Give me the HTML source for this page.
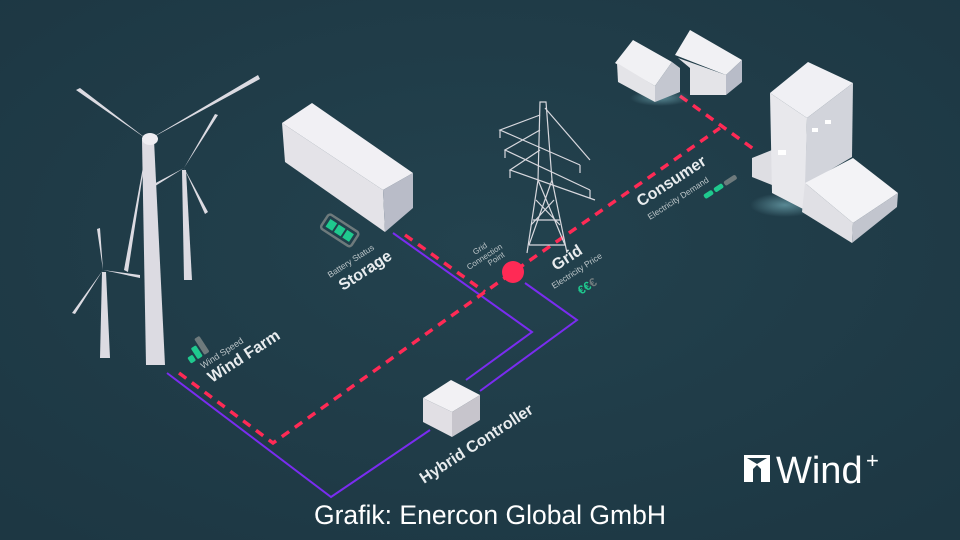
<!DOCTYPE html>
<html><head><meta charset="utf-8"><style>
html,body{margin:0;padding:0;background:#1f3b47;}
svg{display:block}
text{font-family:"Liberation Sans",sans-serif;}
</style></head><body>
<svg width="960" height="540" viewBox="0 0 960 540" xmlns="http://www.w3.org/2000/svg">
<defs>
<radialGradient id="bg" cx="50%" cy="45%" r="70%"><stop offset="0" stop-color="#23424e"/><stop offset="1" stop-color="#1d3743"/></radialGradient>
<radialGradient id="glow" cx="50%" cy="50%" r="50%"><stop offset="0" stop-color="#9fe6f0" stop-opacity=".45"/><stop offset="1" stop-color="#9fe6f0" stop-opacity="0"/></radialGradient>
</defs>
<rect width="960" height="540" fill="url(#bg)"/>

<g fill="none" stroke="#7a2cf0" stroke-width="2">
<polyline points="167,373 331,497 430,430"/>
<polyline points="393,233 532,332 466,380"/>
<polyline points="525,283 577,320 480,391"/>
</g>
<g fill="none" stroke="#ff2a55" stroke-width="3.5" stroke-dasharray="9,7">
<polyline points="179,373 273,443 513,272 720,128"/>
<polyline points="405,235 485,292"/>
<polyline points="680,96 755,150"/>
</g>
<circle cx="513" cy="272" r="11" fill="#ff2a55"/>

<polygon points="423,398 451,380 480,395 452,412" fill="#f2f1f4"/>
<polygon points="423,398 452,412 452,437 423,422" fill="#e1dfe4"/>
<polygon points="452,412 480,395 480,420 452,437" fill="#c7c5cc"/>

<g fill="#dcdbe2">
<polygon points="102,272 106,272 110,358 100,358"/>
<polygon points="103,270 72,313 75,314"/><polygon points="103,270 140,278 140,275"/><polygon points="103,270 100,228 97,229"/>
<polygon points="182,170 186,170 192,280 184,280"/>
<polygon points="184,168 150,186 152,188"/><polygon points="184,168 218,115 215,114"/><polygon points="184,168 205,214 208,212"/>
<polygon points="142,140 154,140 165,365 146,365"/>
<polygon points="148,140 76,90 80,88"/><polygon points="148,140 258,75 260,79"/><polygon points="148,140 128,272 124,270"/>
<ellipse cx="150" cy="139" rx="8" ry="6" fill="#eeedf2"/>
</g>

<polygon points="282,123 312,103 413,173 383,190" fill="#f1f0f4"/>
<polygon points="282,123 383,190 385,232 285,162" fill="#e4e3e8"/>
<polygon points="383,190 413,173 413,208 385,232" fill="#b9bcc8"/>
<g transform="translate(340,230) rotate(33)">
<rect x="-18" y="-8" width="36" height="17" rx="3" fill="none" stroke="#6e7a7c" stroke-width="2.5"/>
<rect x="-14" y="-4" width="8" height="9" fill="#1fc98e"/><rect x="-4" y="-4" width="8" height="9" fill="#1fc98e"/><rect x="6" y="-4" width="8" height="9" fill="#1fc98e"/>
</g>

<g stroke="#d8d8de" stroke-width="1.2" fill="none">
<polyline points="527,253 538,180 540,102 546,102 552,180 567,253"/>
<line x1="533" y1="220" x2="560" y2="220"/><line x1="529" y1="245" x2="565" y2="245"/>
<path d="M538,180 L565,245 M552,180 L529,245 M536,200 L560,225 M554,200 L531,225"/>
<path d="M540,115 L500,130 L580,165 M540,130 L505,150 L590,190 M540,150 L510,170 L595,200 M545,108 L590,160"/>
<path d="M500,130 v8 M505,150 v8 M510,170 v8 M580,165 v8 M590,190 v8"/>
</g>

<g>
<ellipse cx="660" cy="98" rx="30" ry="8" fill="url(#glow)"/>
<polygon points="615,63 633,40 672,62 655,86" fill="#f1f1f4"/>
<polygon points="617,63 655,86 655,102 618,82" fill="#e4e4e8"/>
<polygon points="655,86 672,62 680,68 680,92 655,102" fill="#c4c7d0"/>
<polygon points="675,55 690,30 742,60 726,75" fill="#f1f1f4"/>
<polygon points="678,58 726,75 726,95 690,95 690,68" fill="#e4e4e8"/>
<polygon points="726,75 742,60 742,82 726,95" fill="#b8bcc8"/>
</g>
<g>
<ellipse cx="785" cy="205" rx="35" ry="12" fill="url(#glow)"/>
<polygon points="752,158 772,150 772,185 752,177" fill="#dedee3"/>
<polygon points="770,93 808,62 853,83 807,118" fill="#f0f0f4"/>
<polygon points="770,93 807,118 805,210 772,193" fill="#e8e8ec"/>
<polygon points="807,118 853,83 852,157 805,185" fill="#d2d4db"/>
<polygon points="805,183 853,158 898,193 853,223" fill="#f3f3f6"/>
<polygon points="805,183 853,223 852,243 802,212" fill="#e0e0e5"/>
<polygon points="853,223 898,193 897,207 852,243" fill="#c2c5ce"/>
<g fill="#ffffff"><rect x="778" y="150" width="8" height="5"/><rect x="812" y="128" width="6" height="4"/><rect x="825" y="120" width="6" height="4"/></g>
</g>

<g fill="#e8ecee">
<g transform="translate(190,362) rotate(-33)">
<rect x="0" y="-5" width="6" height="7" rx="1.5" fill="#1fc98e"/><rect x="8" y="-11" width="6" height="13" rx="1.5" fill="#1fc98e"/><rect x="16" y="-17" width="6" height="19" rx="1.5" fill="#6e7a7c"/>
</g>
<text transform="translate(203,369) rotate(-33)" font-size="9" fill="#bcc5c8">Wind Speed</text>
<text transform="translate(212,383) rotate(-33)" font-size="16" font-weight="bold">Wind Farm</text>
<text transform="translate(330,278) rotate(-33)" font-size="8.5" fill="#bcc5c8">Battery Status</text>
<text transform="translate(343,291) rotate(-33)" font-size="16" font-weight="bold">Storage</text>
<text transform="translate(475,255) rotate(-33)" font-size="8" fill="#bcc5c8">Grid</text>
<text transform="translate(469,270) rotate(-33)" font-size="8" fill="#bcc5c8">Connection</text>
<text transform="translate(490,266) rotate(-33)" font-size="8" fill="#bcc5c8">Point</text>
<text transform="translate(556,271) rotate(-33)" font-size="16" font-weight="bold">Grid</text>
<text transform="translate(554,289) rotate(-33)" font-size="8.5" fill="#bcc5c8">Electricity Price</text>
<text transform="translate(581,295) rotate(-33)" font-size="12" font-weight="bold" fill="#1fc98e">€€<tspan fill="#6e7a7c">€</tspan></text>
<text transform="translate(641,207) rotate(-33)" font-size="16" font-weight="bold">Consumer</text>
<text transform="translate(650,220) rotate(-33)" font-size="8.5" fill="#bcc5c8">Electricity Demand</text>
<g transform="translate(703,195) rotate(-33)">
<rect x="0" y="0" width="10" height="5" rx="2" fill="#1fc98e"/><rect x="12" y="0" width="10" height="5" rx="2" fill="#1fc98e"/><rect x="24" y="0" width="14" height="5" rx="2" fill="#6e7a7c"/>
</g>
<text transform="translate(424,484) rotate(-33)" font-size="16" font-weight="bold">Hybrid Controller</text>
</g>

<path d="M744,455 H770 V482 H761 V469 L757,465 L753,469 V482 H744 Z" fill="#fff"/>
<polygon points="747,458 757,464 767,458" fill="#1f3b47"/>
<text x="776" y="483" font-size="38" fill="#fff">Wind</text>
<text x="866" y="468" font-size="22" fill="#fff">+</text>
<text x="490" y="524" font-size="26.5" fill="#ffffff" text-anchor="middle">Grafik: Enercon Global GmbH</text>
</svg>
</body></html>
